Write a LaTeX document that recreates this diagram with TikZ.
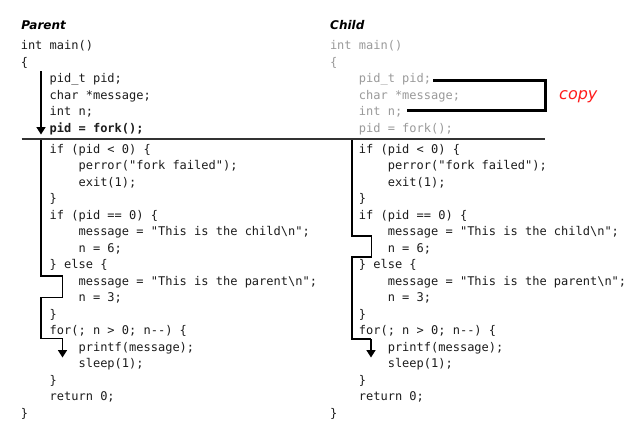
\documentclass[tikz,border=0pt]{standalone}
\usepackage{fontspec}
\setmonofont{DejaVu Sans Mono}
\newfontfamily\headfont{DejaVu Sans}
\usetikzlibrary{arrows.meta}

\definecolor{codeink}{HTML}{1C1C1C}
\definecolor{copiedink}{HTML}{9A9A9A}
\definecolor{ruleink}{HTML}{333333}
\definecolor{notered}{HTML}{FF1A1A}

\tikzset{
  code/.style={anchor=base west, inner sep=0pt,
    font=\ttfamily\fontsize{12}{14}\selectfont, text=codeink},
  copied/.style={code, text=copiedink},
  heading/.style={anchor=base west, inner sep=0pt,
    font=\headfont\bfseries\itshape\fontsize{12}{14}\selectfont, text=black},
  note/.style={anchor=base west, inner sep=0pt,
    font=\headfont\itshape\fontsize{16}{18}\selectfont, text=notered},
  flowline/.style={line width=1.6pt, draw=black},
  flow/.style={flowline, -{Triangle[width=9pt,length=7.5pt]}},
  forkrule/.style={line width=2pt, draw=ruleink},
  bracket/.style={line width=3pt, draw=black},
}

% Code after the fork() call: identical in both processes.
% #1 node-name prefix, #2 left edge of column, #3 baseline of first line
\newcommand\forkbody[3]{%
  \foreach \lvl/\txt [count=\k from 0] in {
    0/{if (pid < 0) \{},
    1/{perror("fork failed");},
    1/{exit(1);},
    0/{\}},
    0/{if (pid == 0) \{},
    1/{message = "This is the child\textbackslash n";},
    1/{n = 6;},
    0/{\} else \{},
    1/{message = "This is the parent\textbackslash n";},
    1/{n = 3;},
    0/{\}},
    0/{for(; n > 0; n--) \{},
    1/{printf(message);},
    1/{sleep(1);},
    0/{\}},
    0/{return 0;}
  }{%
    \node[code] (#1\k) at ({#2+(\lvl+1)*28.9}, {#3+\k*16.5}) {\txt};
  }%
  \node[code] (#1end) at (#2, {#3+16*16.5}) {\}};
}

\begin{document}
\begin{tikzpicture}[x=1pt, y=-1pt]
  \fill[white] (0,0) rectangle (641,434);

  % headings
  \node[heading] (parenthead) at (21.2,29.5) {Parent};
  \node[heading] (childhead)  at (330,29.5)  {Child};

  % parent: code up to and including fork()
  \node[code] (pmain) at (20.6,49.5)  {int main()};
  \node[code] (popen) at (20.6,66)    {\{};
  \node[code] (ppid)  at (49.5,82.5)  {pid\_t pid;};
  \node[code] (pmsg)  at (49.5,99)    {char *message;};
  \node[code] (pn)    at (49.5,115.5) {int n;};
  \node[code] (pfork) at (49.5,132)   {\bfseries pid = fork();};

  % child: same code, inherited from the parent
  \node[copied] (cmain) at (329.8,49.5)  {int main()};
  \node[copied] (copen) at (329.8,66)    {\{};
  \node[copied] (cpid)  at (358.7,82.5)  {pid\_t pid;};
  \node[copied] (cmsg)  at (358.7,99)    {char *message;};
  \node[copied] (cn)    at (358.7,115.5) {int n;};
  \node[copied] (cfork) at (358.7,132)   {pid = fork();};

  % code executed after fork() in each process
  \forkbody{pb}{20.6}{153.3}
  \forkbody{cb}{329.8}{153.3}

  % the fork() line
  \coordinate (ruleL) at (21.7,139);
  \coordinate (ruleR) at (545,139);
  \draw[forkrule] (ruleL) -- (ruleR);

  % parent control flow before fork()
  \coordinate (pa0) at (41,71);
  \coordinate (pa1) at (41,134.5);
  \draw[flow] (pa0) -- (pa1);

  % parent control flow after fork(): takes the else branch
  \coordinate (pb0) at (41,140);
  \coordinate (pb1) at (62.5,276);
  \coordinate (pb2) at (41,297.5);
  \coordinate (pb3) at (62.5,338.5);
  \coordinate (pb4) at (62.5,357.5);
  \draw[flowline] (pb0) |- (pb1) |- (pb2) |- (pb3);
  \draw[flow] (pb3) -- (pb4);

  % child control flow after fork(): takes the pid == 0 branch
  \coordinate (cb0) at (351.7,140);
  \coordinate (cb1) at (371.5,236);
  \coordinate (cb2) at (351.7,256.7);
  \coordinate (cb3) at (371,339);
  \coordinate (cb4) at (371,357.5);
  \draw[flowline] (cb0) |- (cb1) |- (cb2) |- (cb3);
  \draw[flow] (cb3) -- (cb4);

  % copied variables
  \coordinate (cpyA) at (433,80);
  \coordinate (cpyR) at (545,95);
  \coordinate (cpyB) at (407,110.7);
  \draw[bracket] (cpyA) -| (cpyR) |- (cpyB);
  \node[note] (copylabel) at (559,99) {copy};
\end{tikzpicture}
\end{document}
